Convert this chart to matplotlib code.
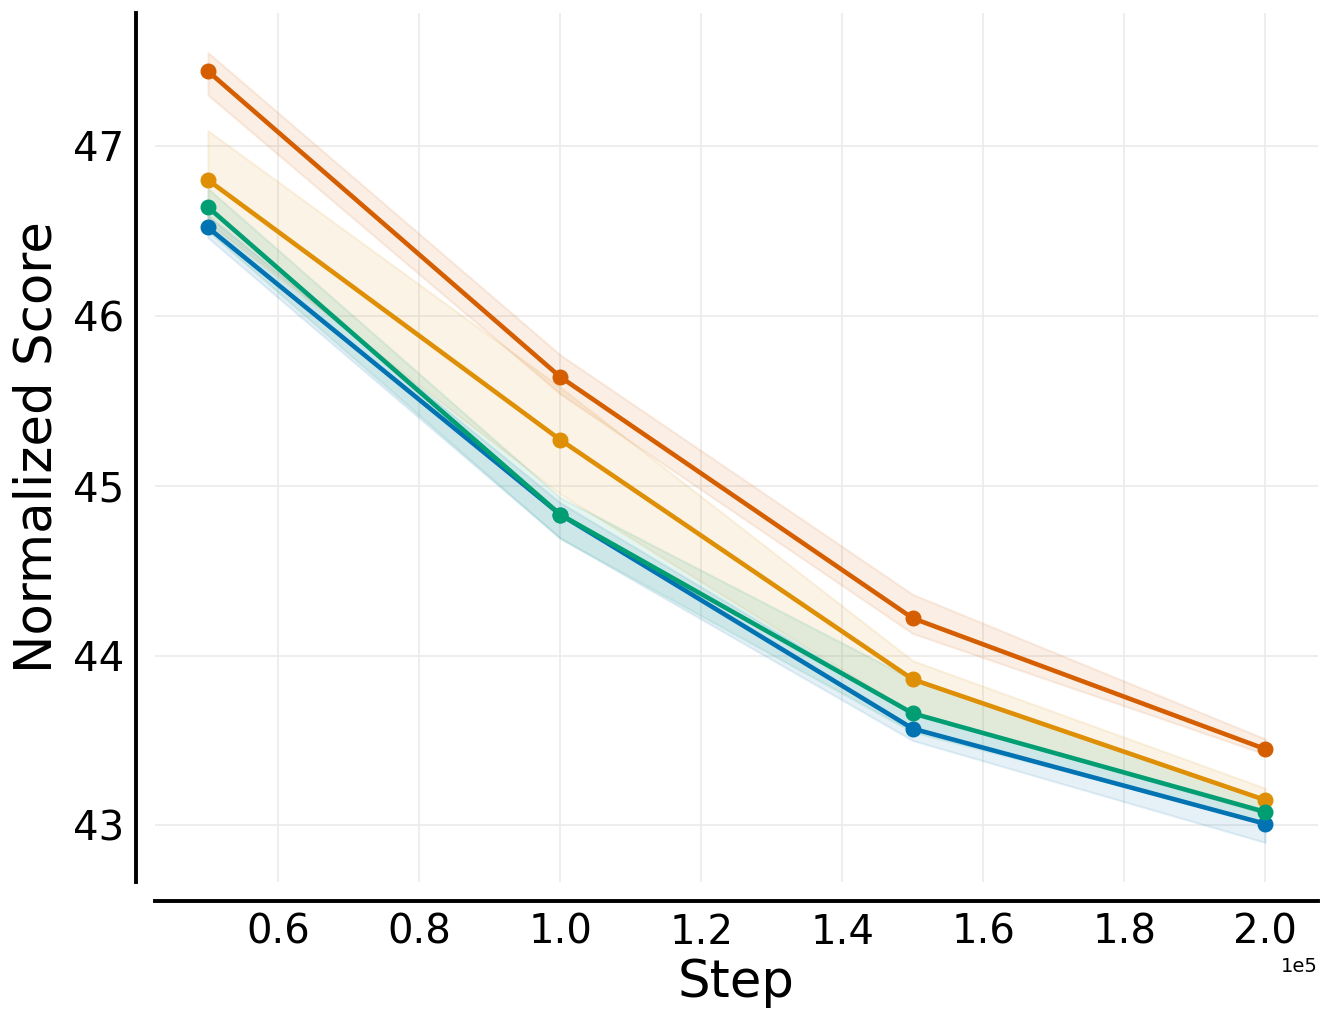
import numpy as np
import matplotlib
matplotlib.use('Agg')
import matplotlib.pyplot as plt

# Datos
steps = [50000, 100000, 150000, 200000]

blue_mean = [46.52, 44.83, 43.57, 43.01]
blue_low = [46.46, 44.69, 43.50, 42.90]
blue_high = [46.59, 44.90, 43.66, 43.07]

orange_mean = [46.80, 45.27, 43.86, 43.15]
orange_low = [46.55, 44.95, 43.66, 43.07]
orange_high = [47.09, 45.58, 43.97, 43.22]

green_mean = [46.64, 44.83, 43.66, 43.08]
green_low = [46.50, 44.69, 43.55, 43.02]
green_high = [46.75, 44.93, 43.86, 43.15]

red_mean = [47.44, 45.64, 44.22, 43.45]
red_low = [47.30, 45.54, 44.13, 43.42]
red_high = [47.55, 45.77, 44.36, 43.51]

colors = ['#0173b2', '#de8f05', '#029e73', '#d55e00']

series = [
    (blue_mean, blue_low, blue_high),
    (orange_mean, orange_low, orange_high),
    (green_mean, green_low, green_high),
    (red_mean, red_low, red_high),
]

fig = plt.figure(figsize=(13.32, 10.24), dpi=100)
ax = fig.add_axes([0.1164, 0.1387, 0.8731, 0.8486])

for (m, lo, hi), c in zip(series, colors):
    ax.fill_between(steps, lo, hi, color=c, alpha=0.1, linewidth=1.5)
    ax.plot(steps, m, color=c, linewidth=3.3, marker='o', markersize=10.5)

ax.grid(True, color='#ebebeb', linewidth=1.2)
ax.set_axisbelow(True)

# Estilo de ejes tipo despine con offset
for s in ['top', 'right']:
    ax.spines[s].set_visible(False)
for s in ['left', 'bottom']:
    ax.spines[s].set_linewidth(2.8)
    ax.spines[s].set_position(('outward', 14))

ax.ticklabel_format(axis='x', style='sci', scilimits=(0, 0))
ax.tick_params(axis='both', length=0, labelsize=29, pad=8)
ax.xaxis.get_offset_text().set_fontsize(14)

ax.set_xlabel('Step', fontsize=37, labelpad=4)
ax.set_ylabel('Normalized Score', fontsize=37, labelpad=8)

fig.savefig('out.png', dpi=100)
